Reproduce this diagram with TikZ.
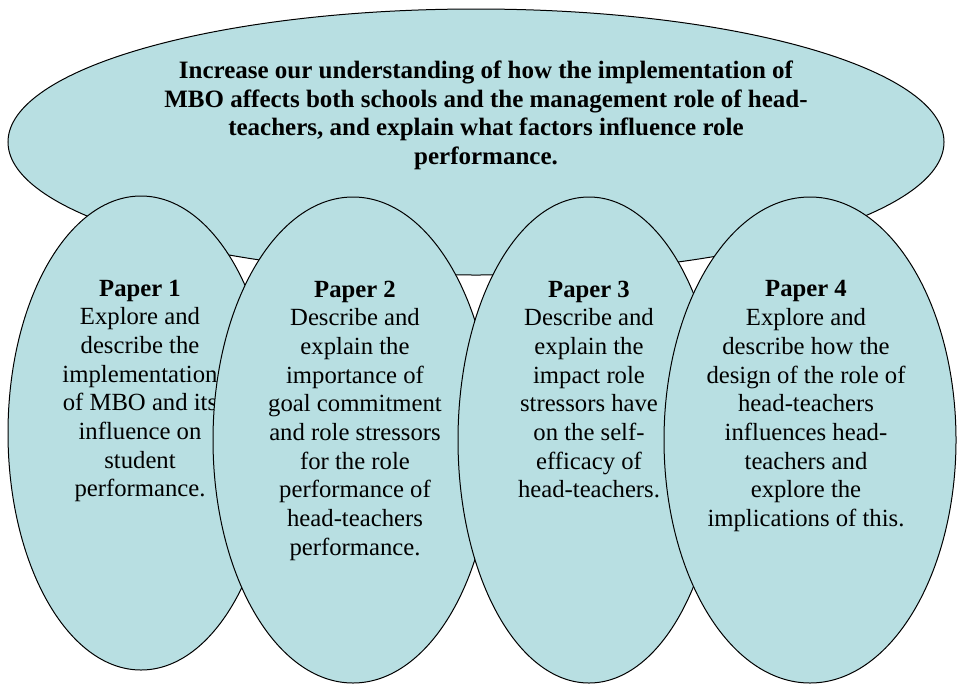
\documentclass[tikz,border=0pt]{standalone}
\usepackage{fontspec}
\setmainfont{Liberation Serif}
\usetikzlibrary{shapes.geometric}
\definecolor{ovalfill}{RGB}{184,223,226}
\begin{document}
\begin{tikzpicture}[x=1pt,y=-1pt,
  oval/.style={ellipse, draw=black, line width=1pt, fill=ovalfill, inner sep=0pt, outer sep=0pt},
  goaltext/.style={align=center, inner sep=0pt, anchor=north, font=\fontsize{25}{28.4}\selectfont\bfseries},
  papertext/.style={align=center, inner sep=0pt, anchor=north, font=\fontsize{24.7}{28.7}\selectfont}]
\useasboundingbox (0,0) rectangle (957,683);
% overall aim
\node[oval, minimum width=936pt, minimum height=266pt] (aim) at (476,142) {};
\node[goaltext] (aimtext) at (486,61) {Increase our understanding of how the implementation of\\
MBO affects both schools and the management role of head-\\
teachers, and explain what factors influence role\\
performance.};
% paper 1
\node[oval, minimum width=266pt, minimum height=474pt] (p1) at (141,433) {};
\node[papertext] (t1) at (140,279.5) {\textbf{Paper 1}\\Explore and\\describe the\\implementation\\of MBO and its\\influence on\\student\\performance.};
% paper 2
\node[oval, minimum width=280pt, minimum height=486pt] (p2) at (353,440) {};
\node[papertext] (t2) at (355,280.5) {\textbf{Paper 2}\\Describe and\\explain the\\importance of\\goal commitment\\and role stressors\\for the role\\performance of\\head-teachers\\performance.};
% paper 3
\node[oval, minimum width=262pt, minimum height=486pt] (p3) at (589,440) {};
\node[papertext] (t3) at (589,280.5) {\textbf{Paper 3}\\Describe and\\explain the\\impact role\\stressors have\\on the self-\\efficacy of\\head-teachers.};
% paper 4
\node[oval, minimum width=292pt, minimum height=486pt] (p4) at (810,440) {};
\node[papertext] (t4) at (806,280.5) {\textbf{Paper 4}\\Explore and\\describe how the\\design of the role of\\head-teachers\\influences head-\\teachers and\\explore the\\implications of this.};
\end{tikzpicture}
\end{document}
